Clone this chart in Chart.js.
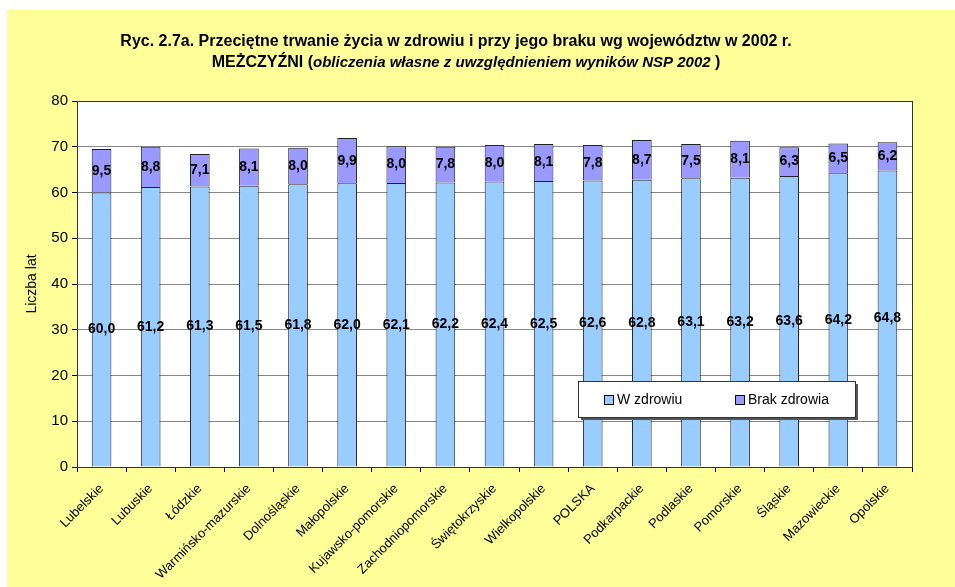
<!DOCTYPE html>
<html>
<head>
<meta charset="utf-8">
<script src="https://cdn.jsdelivr.net/npm/chart.js@4"></script>
<style>
    body { margin: 0; background: #ffffff; }
    #wrap { position: absolute; left: 7px; top: 10px; width: 948px; height: 577px; background: #ffff99; }
</style>
</head>
<body>
<div id="wrap"><canvas id="lifeChart" width="948" height="577"></canvas></div>
<script>
// regions (wojewodztwa) in chart order
var regions = ['Lubelskie', 'Lubuskie', 'Łódzkie', 'Warmińsko-mazurskie', 'Dolnośląskie', 'Małopolskie',
    'Kujawsko-pomorskie', 'Zachodniopomorskie', 'Świętokrzyskie', 'Wielkopolskie', 'POLSKA', 'Podkarpackie',
    'Podlaskie', 'Pomorskie', 'Śląskie', 'Mazowieckie', 'Opolskie'];
var healthy = [60.0, 61.2, 61.3, 61.5, 61.8, 62.0, 62.1, 62.2, 62.4, 62.5, 62.6, 62.8, 63.1, 63.2, 63.6, 64.2, 64.8];
var unhealthy = [9.5, 8.8, 7.1, 8.1, 8.0, 9.9, 8.0, 7.8, 8.0, 8.1, 7.8, 8.7, 7.5, 8.1, 6.3, 6.5, 6.2];
var seriesNames = ['W zdrowiu', 'Brak zdrowia'];
var seriesColors = ['#99ccff', '#9999ff'];

var FONT = 'Arial, "Liberation Sans", sans-serif';

// values printed in the middle of each segment, polish decimal comma
var barLabels = {
    id: 'barLabels',
    afterDatasetsDraw: function (chart) {
        var ctx = chart.ctx;
        ctx.save();
        ctx.font = 'bold 14px ' + FONT;
        ctx.fillStyle = '#000';
        ctx.textAlign = 'center';
        ctx.textBaseline = 'middle';
        chart.data.datasets.forEach(function (ds, i) {
            chart.getDatasetMeta(i).data.forEach(function (bar, j) {
                var txt = ds.data[j].toFixed(1).replace('.', ',');
                ctx.fillText(txt, bar.x, (bar.y + bar.base) / 2);
            });
        });
        ctx.restore();
    }
};

// frame, title and the boxed legend
var decorations = {
    id: 'decorations',
    beforeDraw: function (chart) {
        var a = chart.chartArea, ctx = chart.ctx;
        ctx.save();
        ctx.fillStyle = '#ffffff';
        ctx.fillRect(a.left, a.top, a.right - a.left, a.bottom - a.top);
        ctx.restore();
    },
    afterDraw: function (chart) {
        var a = chart.chartArea, ctx = chart.ctx;
        ctx.save();
        ctx.strokeStyle = '#333';
        ctx.lineWidth = 1;
        ctx.strokeRect(Math.round(a.left) + 0.5, Math.round(a.top) + 0.5, Math.round(a.right - a.left), Math.round(a.bottom - a.top));

        // title
        ctx.fillStyle = '#000';
        ctx.textBaseline = 'middle';
        ctx.textAlign = 'center';
        ctx.font = 'bold 16px ' + FONT;
        ctx.fillText('Ryc. 2.7a. Przeciętne trwanie życia w zdrowiu i przy jego braku wg województw w 2002 r.', 449, 32);

        var parts = [
            ['bold 16px ', 'MEŻCZYŹNI ('],
            ['italic bold 15px ', 'obliczenia własne z uwzględnieniem wyników NSP 2002'],
            ['bold 16px ', ' )']
        ];
        var total = 0;
        parts.forEach(function (p) { ctx.font = p[0] + FONT; total += ctx.measureText(p[1]).width; });
        var x = 459 - total / 2;
        ctx.textAlign = 'left';
        parts.forEach(function (p) {
            ctx.font = p[0] + FONT;
            ctx.fillText(p[1], x, 53);
            x += ctx.measureText(p[1]).width;
        });

        // legend box
        var lx = 571, ly = 371, lw = 277, lh = 36;
        ctx.fillStyle = '#555';
        ctx.fillRect(lx + 3, ly + 3, lw, lh);
        ctx.fillStyle = '#fff';
        ctx.fillRect(lx, ly, lw, lh);
        ctx.strokeStyle = '#333';
        ctx.strokeRect(lx + 0.5, ly + 0.5, lw, lh);

        ctx.font = '14px ' + FONT;
        var itemX = [597, 728];
        seriesNames.forEach(function (name, i) {
            ctx.fillStyle = seriesColors[i];
            ctx.fillRect(itemX[i], ly + 14, 9, 9);
            ctx.strokeStyle = '#000';
            ctx.strokeRect(itemX[i] + 0.5, ly + 14.5, 9, 9);
            ctx.fillStyle = '#000';
            ctx.fillText(name, itemX[i] + 13, ly + 19);
        });
        ctx.restore();
    }
};

var ctx = document.getElementById('lifeChart').getContext('2d');
window.lifeChart = new Chart(ctx, {
    type: 'bar',
    data: {
        labels: regions,
        datasets: [{
            label: seriesNames[0],
            data: healthy,
            backgroundColor: seriesColors[0],
            borderColor: '#222',
            borderWidth: 1
        }, {
            label: seriesNames[1],
            data: unhealthy,
            backgroundColor: seriesColors[1],
            borderColor: '#222',
            borderWidth: 1
        }]
    },
    options: {
        responsive: false,
        animation: false,
        layout: { padding: { left: 13, top: 91, right: 43, bottom: 0 } },
        datasets: { bar: { barPercentage: 0.4, categoryPercentage: 1 } },
        plugins: {
            legend: { display: false },
            tooltip: { enabled: false }
        },
        scales: {
            x: {
                stacked: true,
                afterFit: function (s) { s.height = 120; },
                grid: { drawOnChartArea: false, color: '#000', tickLength: 5, offset: true },
                border: { color: '#000' },
                ticks: {
                    color: '#000',
                    font: { family: FONT, size: 13 },
                    maxRotation: 45,
                    minRotation: 45,
                    autoSkip: false,
                    padding: 9
                }
            },
            y: {
                stacked: true,
                min: 0,
                max: 80,
                afterFit: function (s) { s.width = 57; },
                ticks: { stepSize: 10, color: '#000', font: { family: FONT, size: 15 }, padding: 4 },
                grid: { color: '#888', tickColor: '#000', tickLength: 5 },
                border: { color: '#000' },
                title: { display: true, text: 'Liczba lat', color: '#000', font: { family: FONT, size: 14 } }
            }
        }
    },
    plugins: [barLabels, decorations]
});
</script>
</body>
</html>
